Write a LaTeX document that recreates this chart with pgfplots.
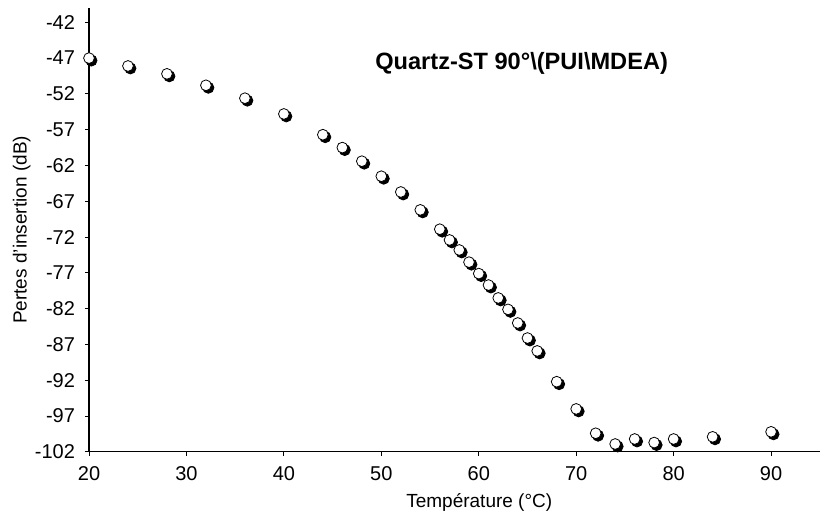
\documentclass[border=0pt]{standalone}
\usepackage{pgfplots}
\pgfplotsset{compat=1.18}
\usepackage{fontspec}
\setmainfont{Liberation Sans}
\begin{document}
\begin{tikzpicture}
\begin{axis}[
  scale only axis,
  width=365.5pt, height=222pt,
  xmin=20, xmax=95, ymin=-102, ymax=-40,
  axis x line*=bottom, axis y line*=left,
  xtick={20,30,...,90},
  ytick={-102,-97,...,-42},
  tick align=outside,
  major tick length=2pt,
  tick style={black, line width=0.5pt},
  axis line style={line width=0.6pt},
  /pgf/number format/assume math mode=true,
  ticklabel style={font=\fontsize{10}{12}\selectfont},
  yticklabel style={xshift=-1.5pt},
  xticklabel style={yshift=-2pt},
  xlabel={Température (°C)},
  ylabel={Pertes d'insertion (dB)},
  label style={font=\fontsize{9.5}{11}\selectfont},
  xlabel style={at={(axis description cs:0.534,-0.115)}, anchor=center},
  ylabel style={at={(axis description cs:-0.092,0.5)}, anchor=center, rotate=0},
  clip=false,
]
\pgfplotstableread{
x y
20 -47.0
24 -48.1
28 -49.2
32 -50.8
36 -52.6
40 -54.8
44 -57.7
46 -59.5
48 -61.4
50 -63.5
52 -65.7
54 -68.2
56 -70.9
57 -72.4
58 -73.8
59 -75.5
60 -77.1
61 -78.7
62 -80.5
63 -82.1
64 -84.0
65 -86.1
66 -87.9
68 -92.2
70 -96.0
72 -99.4
74 -100.9
76 -100.2
78 -100.7
80 -100.2
84 -99.9
90 -99.2
}\datatable
\addplot[only marks, mark=*, mark size=2.8pt, mark options={fill=black, draw=black, xshift=1.2pt, yshift=-1.2pt}] table {\datatable};
\addplot[only marks, mark=*, mark size=2.7pt, mark options={fill=white, draw=black, line width=0.4pt}] table {\datatable};
\node[anchor=base, font=\fontsize{11.8}{13}\selectfont\bfseries] at (axis cs:64.4,-48.6) {Quartz-ST 90°\textbackslash(PUI\textbackslash MDEA)};
\path (axis description cs:-0.1218,1.018) (axis description cs:1.003,-0.14);
\end{axis}
\end{tikzpicture}
\end{document}
